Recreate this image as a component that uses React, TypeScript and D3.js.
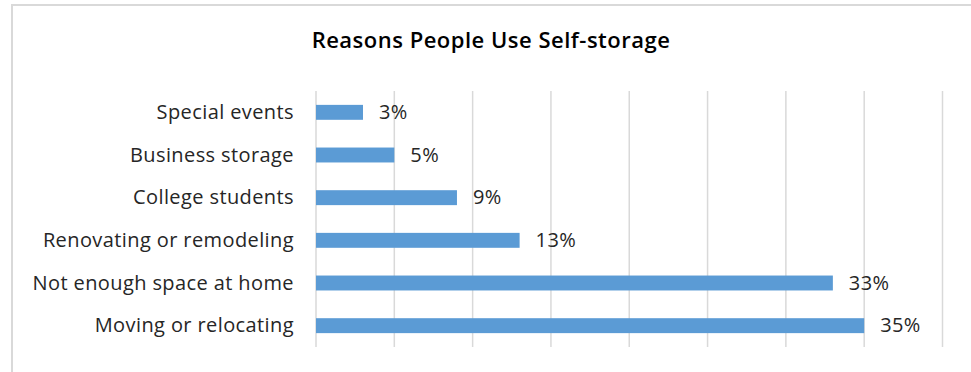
import React from "react";
import * as d3 from "d3";

const categories = [
  "Special events",
  "Business storage",
  "College students",
  "Renovating or remodeling",
  "Not enough space at home",
  "Moving or relocating",
];
const values = [3, 5, 9, 13, 33, 35];
const xTicks = [0, 5, 10, 15, 20, 25, 30, 35, 40];
const title = "Reasons People Use Self-storage";

const W = 971;
const H = 372;
const FONT = "'Open Sans', Lato, sans-serif";

export default function App() {
  const x = d3.scaleLinear().domain([0, 40]).range([316, 942.5]);
  const y = d3.scaleBand<string>().domain(categories).range([91, 347]).paddingInner(0.65).paddingOuter(0.325);

  return (
    <svg
      width={W}
      height={H}
      style={{ position: "absolute", left: 0, top: 0, background: "#fff" }}
      fontFamily={FONT}
    >
      <rect x={12} y={5} width={W + 10} height={H + 10} fill="#fff" stroke="#d9d9d9" strokeWidth={2} />
      <text x={491} y={48} textAnchor="middle" fontSize={22} fontWeight={600} fill="#000" letterSpacing={0.5}>
        {title}
      </text>
      {xTicks.map((t) => (
        <line key={t} x1={x(t)} x2={x(t)} y1={91} y2={347} stroke="#d9d9d9" strokeWidth={1.5} />
      ))}
      {categories.map((c, i) => (
        <g key={c}>
          <rect
            x={x(0)}
            y={y(c)!}
            width={x(values[i]) - x(0)}
            height={y.bandwidth()}
            fill="#5b9bd5"
          />
          <text
            x={294}
            y={y(c)! + y.bandwidth() / 2}
            dy="0.33em"
            textAnchor="end"
            fontSize={20}
            letterSpacing={0.4}
            fill="#262626"
          >
            {c}
          </text>
          <text
            x={x(values[i]) + 16}
            y={y(c)! + y.bandwidth() / 2}
            dy="0.33em"
            fontSize={20}
            letterSpacing={0.4}
            fill="#262626"
          >
            {values[i]}%
          </text>
        </g>
      ))}
    </svg>
  );
}
